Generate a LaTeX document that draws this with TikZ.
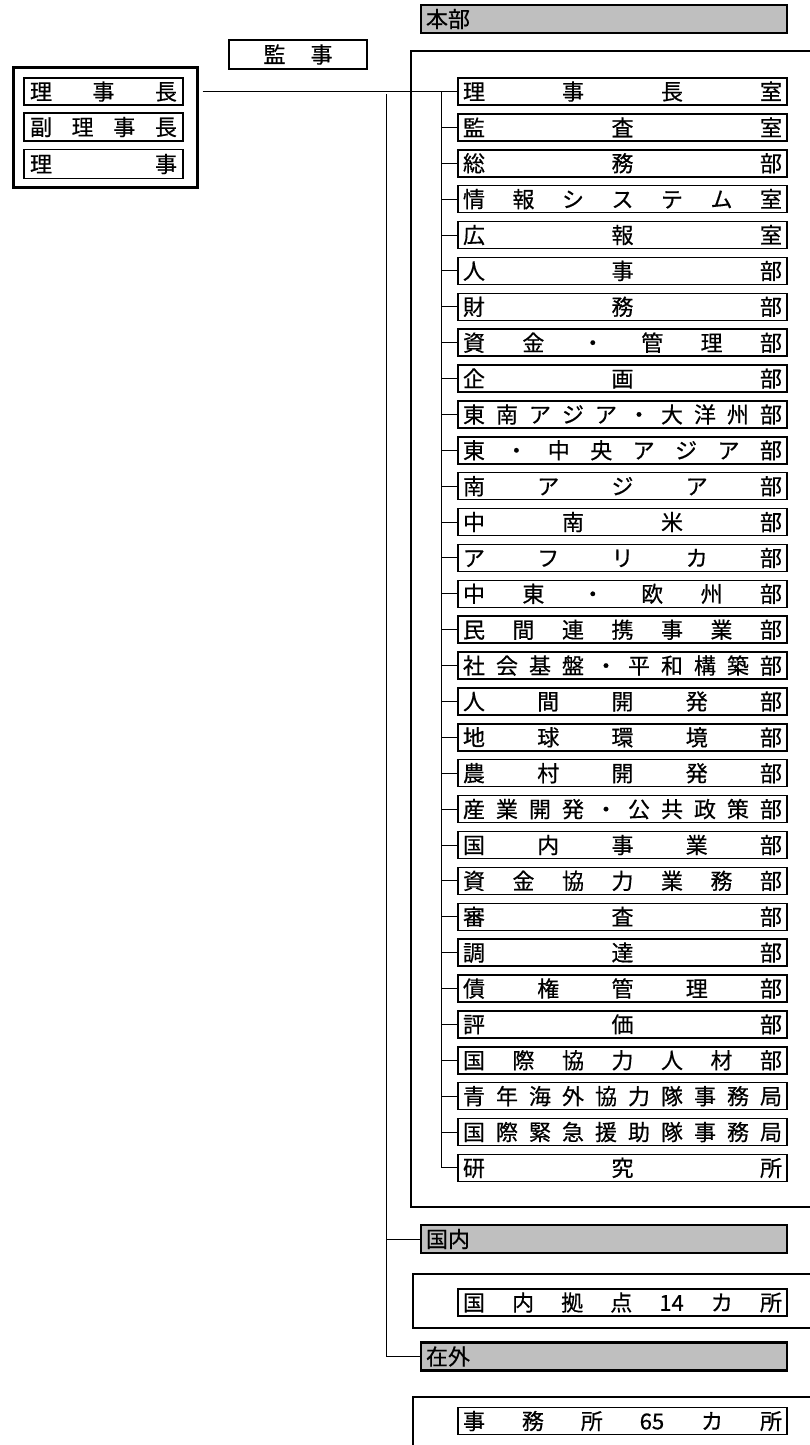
\documentclass[tikz,border=0pt]{standalone}
\usepackage{fontspec}
\setmainfont{Noto Sans CJK JP}[FakeBold=0.5]
\def\spreadit#1{\spreadA#1\endspread}
\def\spreadA#1#2\endspread{#1\ifx\relax#2\relax\else\hfill\spreadA#2\endspread\fi}
\tikzset{
  box/.style={draw, line width=1.5pt, inner sep=0pt, minimum height=27pt, font=\fontsize{22pt}{22pt}\selectfont},
  dep/.style={box, minimum width=329pt},
  hdr/.style={draw, line width=2.4pt, fill=black!25, inner sep=0pt, minimum width=366pt, minimum height=28pt, font=\fontsize{22pt}{22pt}\selectfont},
  link/.style={line width=0.9pt},
  frame/.style={line width=1.6pt},
}
\begin{document}
\begin{tikzpicture}[x=1pt,y=-1pt]
\useasboundingbox (0,0) rectangle (809,1445);
% executives
\node[draw, line width=3pt, minimum width=184pt, minimum height=119pt, inner sep=0pt] (exec) at (105,127.5) {};
\node[box, minimum width=159pt, minimum height=27pt] (r1) at (103.5,91.5) {\makebox[147pt]{\spreadit{理事長}}};
\node[box, minimum width=159pt, minimum height=28pt] (r2) at (103.5,127) {\makebox[147pt]{\spreadit{副理事長}}};
\node[box, minimum width=159pt, minimum height=29pt] (r3) at (103.5,164) {\makebox[147pt]{\spreadit{理事}}};
\node[box, minimum width=138pt, minimum height=29pt] (kanji) at (298,54.5) {監\hspace{25pt}事};
% headquarters
\node[hdr] (honbu) at (604,19) {\makebox[356pt][l]{本部}};
\draw[frame] (812,51) -- (411,51) -- (411,1207) -- (812,1207);
\foreach \t [count=\i] in {理事長室,監査室,総務部,情報システム室,広報室,人事部,財務部,資金・管理部,企画部,東南アジア・大洋州部,東・中央アジア部,南アジア部,中南米部,アフリカ部,中東・欧州部,民間連携事業部,社会基盤・平和構築部,人間開発部,地球環境部,農村開発部,産業開発・公共政策部,国内事業部,資金協力業務部,審査部,調達部,債権管理部,評価部,国際協力人材部,青年海外協力隊事務局,国際緊急援助隊事務局,研究所}{
  \node[dep] (d\i) at (622.5,{91.5+(\i-1)*35.88}) {\makebox[319pt]{\expandafter\spreadit\expandafter{\t}}};
}
\coordinate (vtop) at (441,91.5);
\draw[link] (vtop) |- (d31.west);
\foreach \i in {2,...,30}{
  \draw[link] (d\i.west -| vtop) -- (d\i.west);
}
\draw[link] ([xshift=4pt]exec.east |- r1.center) -- (d1.west);
% domestic / overseas
\node[hdr] (kokunai) at (604,1239) {\makebox[356pt][l]{国内}};
\draw[frame] (812,1274) -- (413,1274) -- (413,1328) -- (812,1328);
\node[dep] (kyoten) at (622.5,1302.5) {\makebox[319pt]{\spreadit{国内拠点{14}カ所}}};
\node[hdr] (zaigai) at (604,1356.5) {\makebox[356pt][l]{在外}};
\draw[frame] (812,1397) -- (413,1397) -- (413,1450);
\node[dep] (jimusho) at (622.5,1421) {\makebox[319pt]{\spreadit{事務所{65}カ所}}};
\coordinate (mtop) at (386,94);
\draw[link] (mtop) |- (zaigai.west);
\draw[link] (kokunai.west -| mtop) -- (kokunai.west);
\end{tikzpicture}
\end{document}
